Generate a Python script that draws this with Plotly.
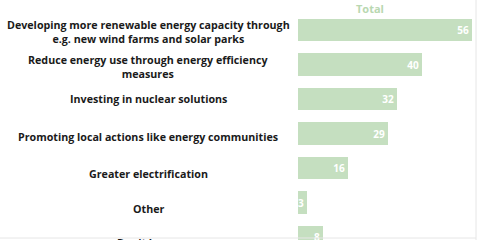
import plotly.graph_objects as go

categories = [
    "Developing more renewable energy capacity through<br>e.g. new wind farms and solar parks",
    "Reduce energy use through energy efficiency<br>measures",
    "Investing in nuclear solutions",
    "Promoting local actions like energy communities",
    "Greater electrification",
    "Other",
    "Don't know",
]
values = [56, 40, 32, 29, 16, 3, 8]
series_name = "Total"

GREEN = "#c5dfc0"
FONT = "Open Sans"

fig = go.Figure()
fig.add_trace(go.Bar(
    y=list(range(len(categories))), x=values, orientation="h",
    marker=dict(color=GREEN, line=dict(width=0)),
    width=0.64,
    text=[str(v) for v in values], textposition="inside", insidetextanchor="end",
    constraintext="none",
    textfont=dict(color="white", family=FONT, size=10, weight="bold"),
    hoverinfo="skip", name=series_name,
))

label_shift = [-2, -2, 0, -3, -6, -6, -6]
for i, c in enumerate(categories):
    fig.add_annotation(
        x=(148 - 298) / 182, y=i, xref="paper", yref="y",
        text=c, showarrow=False, xanchor="center", align="center",
        font=dict(family=FONT, size=10.7, color="#1a1a1a", weight="bold"),
        yshift=label_shift[i],
    )

fig.add_annotation(
    x=(370 - 298) / 182, y=1 + 5 / 227, xref="paper", yref="paper", yanchor="middle",
    text=series_name, showarrow=False,
    font=dict(family=FONT, size=11, color="#b9d8b1", weight="bold"),
)

fig.update_layout(
    width=480, height=240,
    margin=dict(l=298, r=0, t=13, b=0),
    plot_bgcolor="white", paper_bgcolor="white",
    showlegend=False, bargap=0,
    xaxis=dict(range=[0, 182 / (174 / 56)], visible=False),
    yaxis=dict(range=[6.087, -0.493], visible=False),
)

fig.add_shape(type="line", xref="paper", yref="paper", x0=(476 - 298) / 182, x1=(476 - 298) / 182,
              y0=-0.02, y1=1.06, line=dict(color="#e6e6e6", width=1))
fig.add_shape(type="line", xref="paper", yref="paper", x0=-1.7, x1=(476 - 298) / 182,
              y0=(240 - 238) / 227, y1=(240 - 238) / 227, line=dict(color="#e6e6e6", width=1))

fig.write_html("out.html")
